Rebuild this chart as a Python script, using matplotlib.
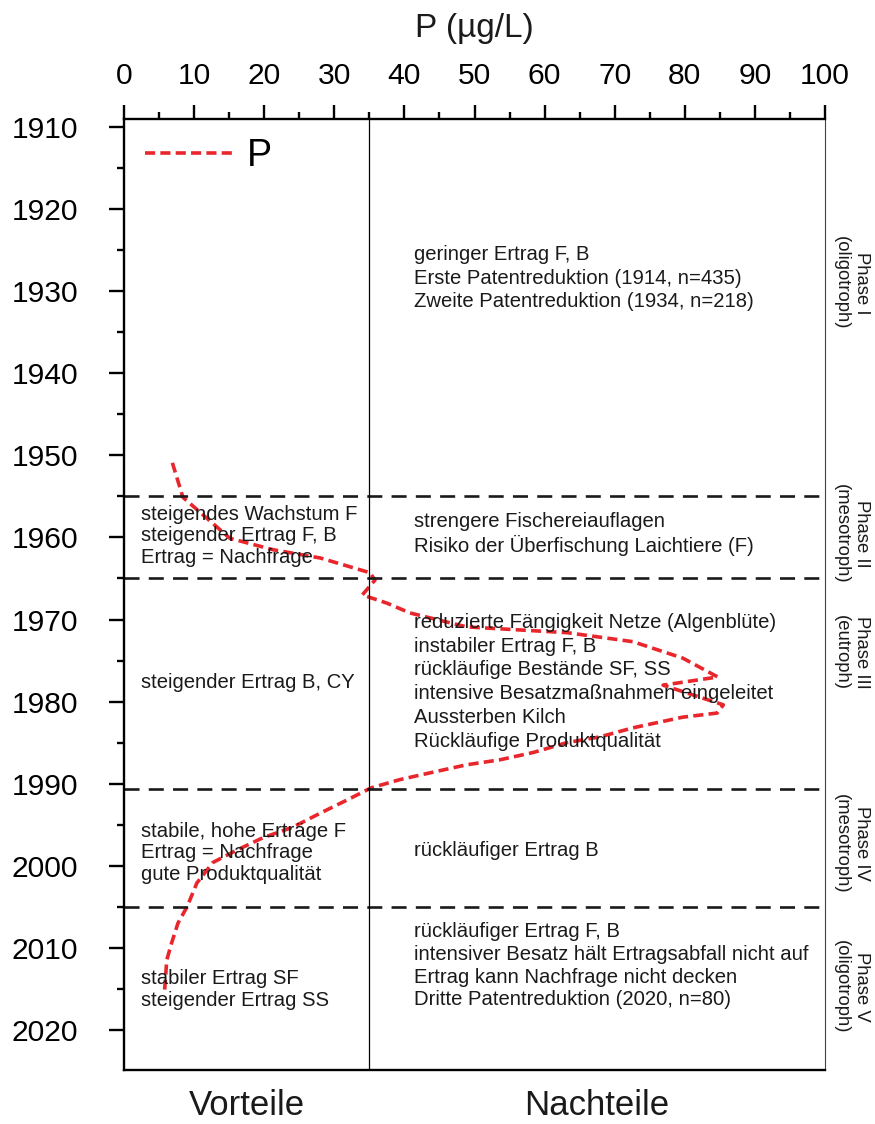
import matplotlib
matplotlib.use("Agg")
import matplotlib.pyplot as plt
import matplotlib.transforms as mtransforms
from matplotlib import font_manager
from matplotlib.ticker import MultipleLocator

# ---------------- data ----------------
p_values = [6.9, 8.4, 15.1, 21.3, 28.0, 35.1, 35.8, 34.0, 37.5, 40.8, 48.9, 63.2, 72.6,
            79.7, 84.7, 76.9, 85.5, 84.6, 79.7, 72.6, 67.9, 63.2, 58.4, 53.6, 48.9, 44.1,
            39.4, 35.3, 31.8, 28.0, 24.1, 19.8, 16.1, 12.7, 10.4, 9.0, 7.7, 6.8, 6.1, 5.8]
years = [1950.9, 1955.1, 1960.1, 1961.5, 1962.5, 1964.3, 1965.2, 1967.0, 1968.0, 1969.2,
         1970.9, 1971.6, 1972.7, 1974.7, 1977.0, 1978.0, 1980.4, 1981.4, 1981.9, 1983.2,
         1984.3, 1985.0, 1986.2, 1987.1, 1987.7, 1988.6, 1989.5, 1990.5, 1992.0, 1993.6,
         1995.3, 1996.6, 1998.1, 1999.6, 2002.1, 2005.0, 2007.0, 2009.4, 2011.5, 2015.1]

phase_bounds = [1955, 1965, 1990.7, 2005]
split_p = 35

x_ticks = list(range(0, 101, 10))
y_ticks = list(range(1910, 2021, 10))

phase_labels = ["Phase I\n(oligotroph)", "Phase II\n(mesotroph)", "Phase III\n(eutroph)",
                "Phase IV\n(mesotroph)", "Phase V\n(oligotroph)"]
phase_label_years = [1929.0, 1959.5, 1974.0, 1997.3, 2014.8]

left_texts = [
    "steigendes Wachstum F\nsteigender Ertrag F, B\nErtrag = Nachfrage",
    "steigender Ertrag B, CY",
    "stabile, hohe Erträge F\nErtrag = Nachfrage\ngute Produktqualität",
    "stabiler Ertrag SF\nsteigender Ertrag SS",
]
left_text_years = [1959.8, 1977.7, 1998.4, 2015.1]

right_texts = [
    "geringer Ertrag F, B\nErste Patentreduktion (1914, n=435)\nZweite Patentreduktion (1934, n=218)",
    "strengere Fischereiauflagen\nRisiko der Überfischung Laichtiere (F)",
    "reduzierte Fängigkeit Netze (Algenblüte)\ninstabiler Ertrag F, B\nrückläufige Bestände SF, SS\n"
    "intensive Besatzmaßnahmen eingeleitet\nAussterben Kilch\nRückläufige Produktqualität",
    "rückläufiger Ertrag B",
    "rückläufiger Ertrag F, B\nintensiver Besatz hält Ertragsabfall nicht auf\n"
    "Ertrag kann Nachfrage nicht decken\nDritte Patentreduktion (2020, n=80)",
]
right_text_years = [1928.4, 1959.6, 1977.6, 1998.2, 2012.2]
right_text_spacing = [1.3, 1.2, 1.32, 1.2, 1.25]

# ---------------- fonts ----------------
names = {f.name for f in font_manager.fontManager.ttflist}
SANS = "Liberation Sans" if "Liberation Sans" in names else "DejaVu Sans"
plt.rcParams["font.family"] = [SANS, "DejaVu Sans"]

TXT = "#1a1a1a"
RED = "#e8262b"

fig = plt.figure(figsize=(8.75, 11.24), dpi=100)
ax = fig.add_axes([124 / 875, 1 - 1070 / 1124, 701 / 875, 951 / 1124])

ax.set_xlim(0, 100)
ax.set_ylim(2024.9, 1909.0)

# curve
ax.plot(p_values, years, color=RED, lw=2.6, linestyle=(0, (2.8, 1.45)), label="P")

# phase boundaries
for yb in phase_bounds:
    ax.axhline(yb, color="#1a1a1a", lw=1.9, linestyle=(0, (5.7, 3.5)))
ax.axvline(split_p, color="black", lw=0.9)

# axes styling
ax.xaxis.tick_top()
ax.set_xticks(x_ticks)
ax.set_xticklabels([str(v) for v in x_ticks])
ax.xaxis.set_minor_locator(MultipleLocator(5))
ax.set_yticks(y_ticks)
ax.set_yticklabels([str(v) for v in y_ticks])
ax.yaxis.set_minor_locator(MultipleLocator(5))
ax.tick_params(axis="x", which="major", direction="out", length=10, width=1.7, pad=11,
               labelsize=21.6, top=True, bottom=False, labelcolor="black")
ax.tick_params(axis="x", which="minor", direction="out", length=5, width=1.7,
               top=True, bottom=False)
ax.tick_params(axis="y", which="major", direction="out", length=10.8, width=1.7, pad=22,
               labelsize=21.6, left=True, right=False, labelcolor="black")
ax.tick_params(axis="y", which="minor", direction="out", length=5, width=1.7,
               left=True, right=False)

for s in ["left", "top", "bottom"]:
    ax.spines[s].set_linewidth(1.7)
    ax.spines[s].set_color("black")
ax.spines["right"].set_linewidth(0.8)
ax.spines["right"].set_color("#444444")

# title
fig.text((124 + 825) / 2 / 875, 1 - 37 / 1124, "P (µg/L)", fontsize=24,
         ha="center", va="baseline", color=TXT)

# texts
for t, yv in zip(left_texts, left_text_years):
    ax.text(2.4, yv, t, fontsize=14.6, ha="left", va="center", color=TXT, linespacing=1.17)
for t, yv, ls in zip(right_texts, right_text_years, right_text_spacing):
    ax.text(41.3, yv, t, fontsize=14.6, ha="left", va="center", color=TXT, linespacing=ls)

for t, yv in zip(phase_labels, phase_label_years):
    ax.text(1.038, yv, t, transform=ax.get_yaxis_transform(), rotation=270,
            fontsize=13.3, ha="center", va="center", multialignment="center",
            color=TXT, linespacing=1.2, clip_on=False)

# bottom category labels
bt = mtransforms.blended_transform_factory(ax.transData, fig.transFigure)
ax.text(split_p / 2, 1 - 1115 / 1124, "Vorteile", transform=bt,
        fontsize=25, ha="center", va="baseline", color=TXT)
ax.text((split_p + 100) / 2, 1 - 1115 / 1124, "Nachteile", transform=bt,
        fontsize=25, ha="center", va="baseline", color=TXT)

# legend
ax.legend(loc="center left", bbox_to_anchor=(0.03, 0.961), frameon=False,
          fontsize=27, handlelength=2.35, handletextpad=0.37, borderpad=0,
          borderaxespad=0)

fig.savefig("out.png", dpi=100)
